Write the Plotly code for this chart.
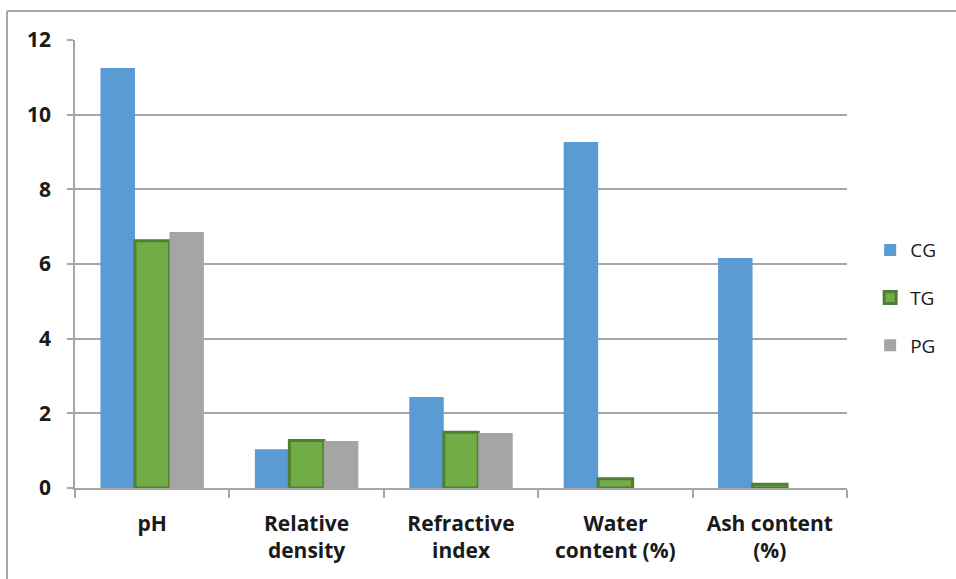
import plotly.graph_objects as go

categories = ["pH", "Relative<br>density", "Refractive<br>index", "Water<br>content (%)", "Ash content<br>(%)"]
cg = [11.25, 1.04, 2.44, 9.27, 6.16]
tg = [6.62, 1.27, 1.49, 0.25, 0.1]
pg = [6.86, 1.26, 1.47, 0, 0]
y_ticks = [0, 2, 4, 6, 8, 10, 12]

fig = go.Figure()
fig.add_bar(name="CG", x=categories, y=cg, marker=dict(color="#5B9BD5", line=dict(width=0)), legendgroup="a")
fig.add_bar(name="TG", x=categories, y=tg, marker=dict(color="#70AD47", line=dict(color="#507E32", width=3)), legendgroup="b")
fig.add_bar(name="PG", x=categories, y=pg, marker=dict(color="#A5A5A5", line=dict(width=0)), legendgroup="c")

tick_font = dict(size=21, family="Open Sans, sans-serif", weight="bold", color="#1a1a1a")

fig.update_layout(
    width=956, height=579,
    margin=dict(l=75, r=109, t=40, b=91),
    paper_bgcolor="white", plot_bgcolor="white",
    barmode="group", bargap=0.33, bargroupgap=0,
    font=dict(family="Open Sans, Liberation Sans, sans-serif", color="#1a1a1a"),
    showlegend=True,
    legend=dict(x=1.03, xanchor="left", y=0.424, yanchor="middle", xref="paper",
                font=dict(size=19, color="#1a1a1a"), tracegroupgap=20,
                traceorder="grouped", itemwidth=30),
    xaxis=dict(type="category", showgrid=False, showline=True, linecolor="#a6a6a6", linewidth=1.5,
               ticks="outside", tickson="boundaries", ticklen=8, tickcolor="#a6a6a6", tickwidth=1.5,
               ticklabelstandoff=16, tickfont=tick_font),
    yaxis=dict(range=[0, 12], tickvals=y_ticks, showgrid=True, gridcolor="#a6a6a6", gridwidth=1.5,
               showline=True, linecolor="#a6a6a6", linewidth=1.5, ticks="outside", ticklen=6,
               tickcolor="#a6a6a6", tickwidth=1.5, zeroline=False,
               ticklabelstandoff=12, tickfont=tick_font),
)

# outer chart border (top and left edges visible)
fig.add_shape(type="line", xref="paper", yref="paper", x0=(7-75)/772, x1=(956-75)/772,
              y0=(488-11)/448, y1=(488-11)/448, line=dict(color="#a6a6a6", width=2))
fig.add_shape(type="line", xref="paper", yref="paper", x0=(7-75)/772, x1=(7-75)/772,
              y0=(488-11)/448, y1=(488-580)/448, line=dict(color="#a6a6a6", width=2))

fig.write_html("out.html")
